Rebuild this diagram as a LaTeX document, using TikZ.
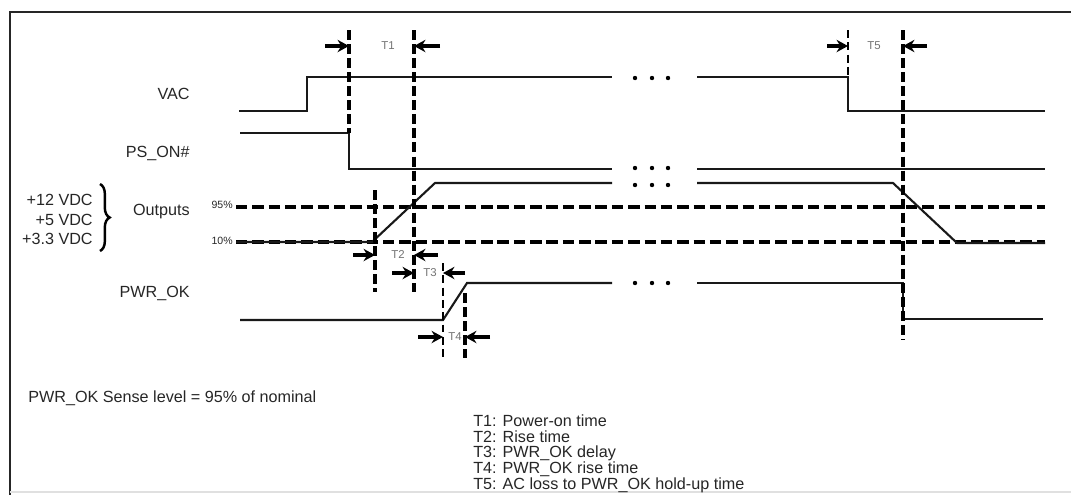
\documentclass[tikz,border=0pt]{standalone}
\usepackage{fontspec}
\setmainfont{Liberation Sans}
\usetikzlibrary{arrows.meta,decorations.pathreplacing}

\begin{document}
\begin{tikzpicture}[
		x=0.02cm, y=-0.02cm,
		every node/.style={inner sep=0pt, text=black!85, font=\fontsize{9.2}{11}\selectfont},
		sig/.style={line width=1.2pt, black!90},
		lvl/.style={line width=2pt, dash pattern=on 6.5pt off 2.8pt},
		thickmk/.style={line width=2pt, dash pattern=on 5.7pt off 2.3pt},
		thinmk/.style={line width=1.1pt, dash pattern=on 4.5pt off 2.5pt},
		dimarr/.style={-{Stealth[length=6.5pt,width=7pt]}, line width=2pt},
		tlab/.style={font=\fontsize{6.5}{7}\selectfont, text=black!55},
		pct/.style={font=\fontsize{6}{7}\selectfont, anchor=east},
		elldot/.style={circle, fill=black, minimum size=2.5pt}
	]
  \useasboundingbox (0,0) rectangle (1071,495);
  \draw [line width=1pt, black!85] (1071,12) -- (10,12) -- (10,495);
  \draw [line width=0.8pt, black!12] (10,492) -- (1071,492);

  % signal names
  \node (vac) [anchor=east] at (190,94) {VAC};
  \node (ps_on) [anchor=east] at (190,153) {PS\_ON\#};
  \node (outputs) [anchor=east] at (190,212) {Outputs};
  \node (v12) [anchor=east] at (93,200) {+12 VDC};
  \node (v5) [anchor=east] at (93,220) {+5 VDC};
  \node (v33) [anchor=east] at (93,239) {+3.3 VDC};
  \node (pwr_ok) [anchor=east] at (190,293) {PWR\_OK};
  \draw [decorate, decoration={brace, amplitude=5.5pt}, line width=1.4pt] (100,184) -- (100,251);
  \node (p95) [pct] at (233,205) {95\%};
  \node (p10) [pct] at (233,241) {10\%};

  % levels and waveforms
  \draw [lvl] (236,207) -- (1045,207);
  \draw [lvl] (236,242) -- (1045,242);
  \draw [sig] (239,111) -- (307,111) -- (307,77) -- (612,77);
  \draw [sig] (697,77) -- (848,77) -- (848,111) -- (1045,111);
  \draw [sig] (240,133) -- (349,133) -- (349,169) -- (612,169);
  \draw [sig] (697,169) -- (1045,169);
  \draw [sig] (236,242) -- (372,242) -- (435,183) -- (612,183);
  \draw [sig] (697,183) -- (893,183) -- (957,243) -- (1045,243);
  \draw [sig] (240,320) -- (443,320) -- (467,283) -- (612,283);
  \draw [sig] (697,283) -- (903,283) -- (903,319) -- (1043,319);

  \node (d_vac_a) [elldot] at (635,78) {};
  \node (d_vac_b) [elldot] at (652,78) {};
  \node (d_vac_c) [elldot] at (668,78) {};
  \node (d_ps_a) [elldot] at (635,168) {};
  \node (d_ps_b) [elldot] at (652,168) {};
  \node (d_ps_c) [elldot] at (668,168) {};
  \node (d_out_a) [elldot] at (635,185) {};
  \node (d_out_b) [elldot] at (652,185) {};
  \node (d_out_c) [elldot] at (668,185) {};
  \node (d_ok_a) [elldot] at (635,283) {};
  \node (d_ok_b) [elldot] at (652,283) {};
  \node (d_ok_c) [elldot] at (668,283) {};

  % timing marks
  \coordinate (m1_top) at (349,30);
  \coordinate (m1_bot) at (349,133);
  \coordinate (m2_top) at (414,30);
  \coordinate (m2_bot) at (414,292);
  \coordinate (m3_top) at (375,190);
  \coordinate (m3_bot) at (375,292);
  \coordinate (m4_top) at (443,263);
  \coordinate (m4_bot) at (443,358);
  \coordinate (m5_top) at (465,293);
  \coordinate (m5_bot) at (465,358);
  \coordinate (m6_top) at (848,30);
  \coordinate (m6_bot) at (848,77);
  \coordinate (m7_top) at (903,30);
  \coordinate (m7_bot) at (903,340);
  \draw (m1_top) edge [thickmk] (m1_bot);
  \draw (m2_top) edge [thickmk] (m2_bot);
  \draw (m3_top) edge [thickmk] (m3_bot);
  \draw (m4_top) edge [thinmk] (m4_bot);
  \draw (m5_top) edge [thickmk] (m5_bot);
  \draw (m6_top) edge [thinmk] (m6_bot);
  \draw (m7_top) edge [thickmk] (m7_bot);

  \coordinate (t1_l) at (325,46);
  \coordinate (t1_r) at (440,46);
  \coordinate (t2_l) at (353,255);
  \coordinate (t2_r) at (438,255);
  \coordinate (t3_l) at (392,273);
  \coordinate (t3_r) at (465,273);
  \coordinate (t4_l) at (418,337);
  \coordinate (t4_r) at (490,337);
  \coordinate (t5_l) at (827,46);
  \coordinate (t5_r) at (927,46);
  \draw [dimarr] (t1_l) -- (t1_l -| m1_top);
  \draw [dimarr] (t1_r) -- (t1_r -| m2_top);
  \draw [dimarr] (t2_l) -- (t2_l -| m3_top);
  \draw [dimarr] (t2_r) -- (t2_r -| m2_top);
  \draw [dimarr] (t3_l) -- (t3_l -| m2_top);
  \draw [dimarr] (t3_r) -- (t3_r -| m4_top);
  \draw [dimarr] (t4_l) -- (t4_l -| m4_top);
  \draw [dimarr] (t4_r) -- (t4_r -| m5_top);
  \draw [dimarr] (t5_l) -- (t5_l -| m6_top);
  \draw [dimarr] (t5_r) -- (t5_r -| m7_top);
  \node (t1) [tlab] at (388,46) {T1};
  \node (t2) [tlab] at (398,255) {T2};
  \node (t3) [tlab] at (430,273) {T3};
  \node (t4) [tlab] at (455,337) {T4};
  \node (t5) [tlab] at (874,46) {T5};

  % notes
  \node (sense) [anchor=west] at (28,398) {PWR\_OK Sense level = 95\% of nominal};
  \node (leg1) [anchor=west] at (473,421) {T1: Power-on time};
  \node (leg2) [anchor=west] at (473,437) {T2: Rise time};
  \node (leg3) [anchor=west] at (473,453) {T3: PWR\_OK delay};
  \node (leg4) [anchor=west] at (473,469) {T4: PWR\_OK rise time};
  \node (leg5) [anchor=west] at (473,485) {T5: AC loss to PWR\_OK hold-up time};
\end{tikzpicture}
\end{document}
